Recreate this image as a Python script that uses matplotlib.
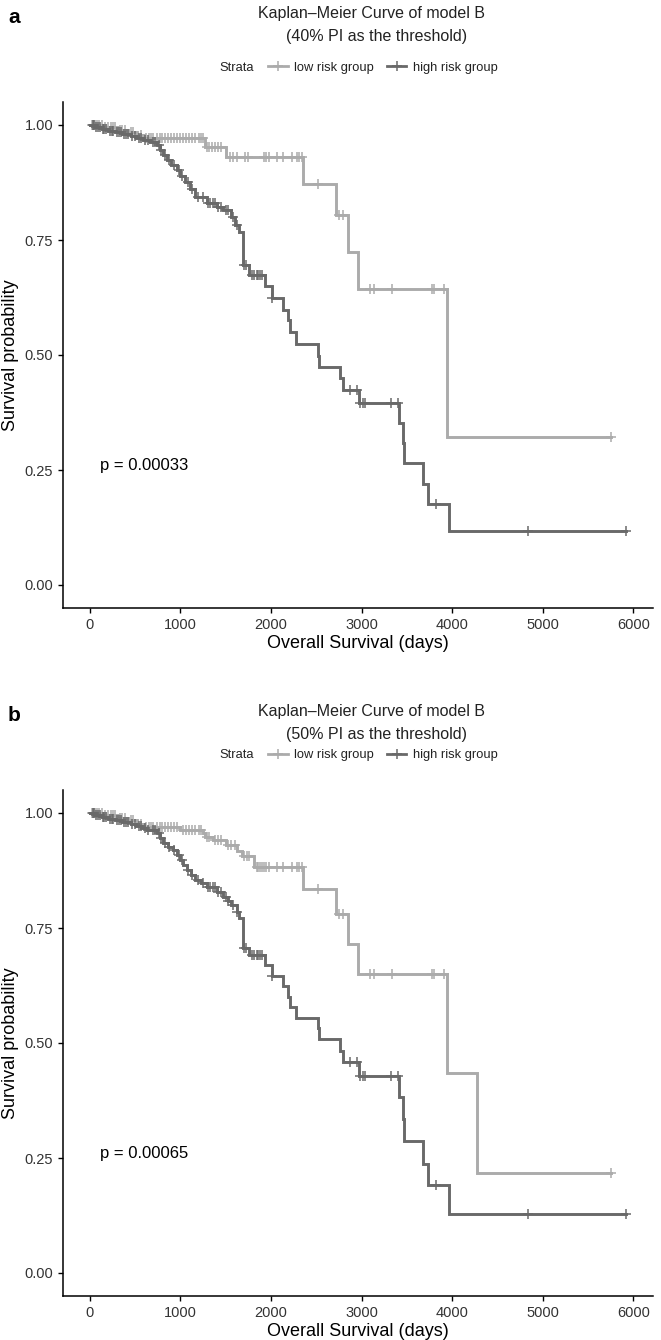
import numpy as np
import matplotlib
matplotlib.use("Agg")
import matplotlib.pyplot as plt
from matplotlib.lines import Line2D

plt.rcParams['font.family'] = ['Liberation Sans', 'DejaVu Sans']

LOW_COL = '#ABABAB'
HIGH_COL = '#696969'

# ---- panel a : 40% PI threshold ----
a_low_t = [0, 150, 300, 420, 520, 600, 1271, 1500, 2357, 2714, 2853, 2964, 3946]
a_low_s = [1.0, 0.995, 0.99, 0.985, 0.978, 0.971, 0.953, 0.930, 0.872, 0.804, 0.725, 0.644, 0.322]
a_low_cens = [20, 40, 60, 80, 100, 130, 170, 200, 230, 260, 280, 330, 360, 390, 450, 480, 560,
              620, 650, 680, 700, 740, 770, 800, 830, 860, 900, 930, 960, 1000, 1030, 1060, 1100,
              1130, 1160, 1200, 1230, 1250, 1290, 1320, 1350, 1380, 1420, 1450, 1547, 1584, 1621,
              1713, 1749, 1923, 1945, 1981, 2063, 2136, 2228, 2284, 2312, 2339, 2515, 2754, 2798,
              3093, 3141, 3332, 3774, 3799, 3913, 5750]

a_high_t = [0, 60, 130, 200, 280, 360, 450, 515, 590, 660, 738, 775, 810, 849, 900, 959, 1000,
            1051, 1110, 1161, 1290, 1400, 1474, 1555, 1603, 1650, 1688, 1761, 1934, 2007, 2129,
            2191, 2210, 2272, 2522, 2533, 2762, 2799, 2971, 3413, 3460, 3468, 3674, 3737, 3965]
a_high_s = [1.0, 0.996, 0.992, 0.988, 0.984, 0.980, 0.976, 0.972, 0.967, 0.962, 0.957, 0.946,
            0.935, 0.924, 0.913, 0.902, 0.890, 0.877, 0.860, 0.844, 0.830, 0.822, 0.815, 0.800,
            0.783, 0.768, 0.696, 0.674, 0.649, 0.623, 0.598, 0.576, 0.549, 0.524, 0.498, 0.475,
            0.451, 0.424, 0.396, 0.353, 0.308, 0.265, 0.220, 0.176, 0.117]
a_high_cens = [30, 50, 70, 90, 110, 140, 160, 180, 220, 240, 260, 300, 320, 340, 380, 400, 420,
               470, 500, 540, 560, 610, 640, 700, 720, 760, 790, 830, 870, 930, 980, 1020, 1080,
               1130, 1190, 1250, 1300, 1330, 1360, 1380, 1420, 1450, 1500, 1530, 1580, 1620, 1700,
               1720, 1790, 1810, 1840, 1860, 1880, 1900, 2010, 2872, 2953, 2985, 3019, 3038, 3321,
               3405, 3818, 4840, 5915]

# ---- panel b : 50% PI threshold ----
b_low_t = [0, 150, 300, 420, 520, 600, 1000, 1250, 1271, 1360, 1500, 1620, 1677, 1812, 2357,
           2714, 2853, 2964, 3946, 4270]
b_low_s = [1.0, 0.995, 0.99, 0.985, 0.977, 0.970, 0.963, 0.956, 0.948, 0.941, 0.930, 0.918,
           0.906, 0.882, 0.835, 0.780, 0.715, 0.649, 0.434, 0.217]
b_low_cens = [20, 40, 60, 80, 100, 130, 170, 200, 230, 260, 280, 330, 360, 390, 450, 480, 560,
              620, 650, 680, 700, 740, 770, 800, 830, 860, 900, 930, 960, 1030, 1060, 1100, 1130,
              1160, 1200, 1230, 1290, 1320, 1380, 1420, 1450, 1530, 1560, 1600, 1700, 1730, 1760,
              1840, 1860, 1880, 1900, 1923, 1945, 1981, 2063, 2136, 2228, 2284, 2312, 2339, 2515,
              2754, 2798, 3093, 3141, 3332, 3774, 3799, 3913, 5750]

b_high_t = [0, 60, 130, 200, 280, 360, 450, 515, 570, 626, 738, 775, 811, 860, 921, 960, 996,
            1030, 1070, 1120, 1161, 1230, 1290, 1400, 1474, 1520, 1555, 1620, 1650, 1688, 1761,
            1934, 2007, 2129, 2191, 2210, 2272, 2523, 2533, 2762, 2799, 2971, 3413, 3460, 3468,
            3674, 3737, 3965]
b_high_s = [1.0, 0.996, 0.992, 0.988, 0.984, 0.980, 0.976, 0.972, 0.967, 0.963, 0.956, 0.945,
            0.934, 0.927, 0.920, 0.909, 0.898, 0.887, 0.876, 0.865, 0.854, 0.847, 0.840, 0.829,
            0.818, 0.809, 0.800, 0.785, 0.771, 0.706, 0.691, 0.670, 0.646, 0.624, 0.601, 0.578,
            0.555, 0.532, 0.508, 0.483, 0.458, 0.429, 0.383, 0.335, 0.287, 0.238, 0.191, 0.128]
b_high_cens = a_high_cens

panels = [
    ('a', '40', 'p = 0.00033', a_low_t, a_low_s, a_low_cens, a_high_t, a_high_s, a_high_cens),
    ('b', '50', 'p = 0.00065', b_low_t, b_low_s, b_low_cens, b_high_t, b_high_s, b_high_cens),
]

W, H = 661, 1340
fig = plt.figure(figsize=(W / 100, H / 100), dpi=100)

# pixel layout of each panel: (axes top, axes bottom, title y, legend y)
layout = [(102, 608, 6, 68), (790, 1296, 704, 755)]


def km_curve(ax, t, s, cens, color):
    t_end = max(max(cens), t[-1])
    tt = list(t) + [t_end]
    ss = list(s) + [s[-1]]
    ax.step(tt, ss, where='post', color=color, lw=2.1, solid_joinstyle='miter')
    idx = np.searchsorted(np.array(t), np.array(cens), side='right') - 1
    cs = np.array(s)[idx]
    ax.plot(cens, cs, ls='none', marker='+', ms=7, mew=1.1, color=color)


for (tag, pct, ptxt, lt, ls_, lc, ht, hs, hc), (top, bot, ty, ly) in zip(panels, layout):
    ax = fig.add_axes([63 / W, 1 - bot / H, (653 - 63) / W, (bot - top) / H])
    km_curve(ax, lt, ls_, lc, LOW_COL)
    km_curve(ax, ht, hs, hc, HIGH_COL)
    ax.set_xlim(-296, 6216)
    ax.set_ylim(-0.05, 1.05)
    ax.set_xticks(np.arange(0, 6001, 1000))
    ax.set_yticks([0, 0.25, 0.5, 0.75, 1.0])
    ax.set_yticklabels(['0.00', '0.25', '0.50', '0.75', '1.00'])
    for side in ['top', 'right']:
        ax.spines[side].set_visible(False)
    for side in ['left', 'bottom']:
        ax.spines[side].set_linewidth(1.1)
    ax.tick_params(labelsize=10.5, length=3.5, width=1.0, colors='black', labelcolor='#333333')
    ax.set_xlabel('Overall Survival (days)', fontsize=13, labelpad=2)
    ax.set_ylabel('Survival probability', fontsize=13, labelpad=4)
    ax.text(110, 0.26, ptxt, fontsize=12, va='center', ha='left')

    fig.text(372 / W, 1 - ty / H, 'Kaplan\u2013Meier Curve of model B\n  (%s%% PI as the threshold)' % pct,
             ha='center', va='top', fontsize=11.5, linespacing=1.65, color='#222222')
    fig.text(8 / W, 1 - (ty + 2) / H, tag, fontsize=15, fontweight='bold', va='top', ha='left')

    fig.text(254 / W, 1 - ly / H, 'Strata', fontsize=9.3, ha='right', va='center', color='#222222')
    handles = [Line2D([], [], color=LOW_COL, lw=2, marker='+', ms=7, mew=1.1),
               Line2D([], [], color=HIGH_COL, lw=2, marker='+', ms=7, mew=1.1)]
    fig.legend(handles, ['low risk group', 'high risk group'], ncol=2, frameon=False,
               loc='center left', bbox_to_anchor=(262 / W, 1 - ly / H), fontsize=9.3,
               handlelength=1.5, handletextpad=0.5, columnspacing=1.0, borderpad=0,
               labelcolor='#222222')

fig.savefig('out.png', dpi=100)
